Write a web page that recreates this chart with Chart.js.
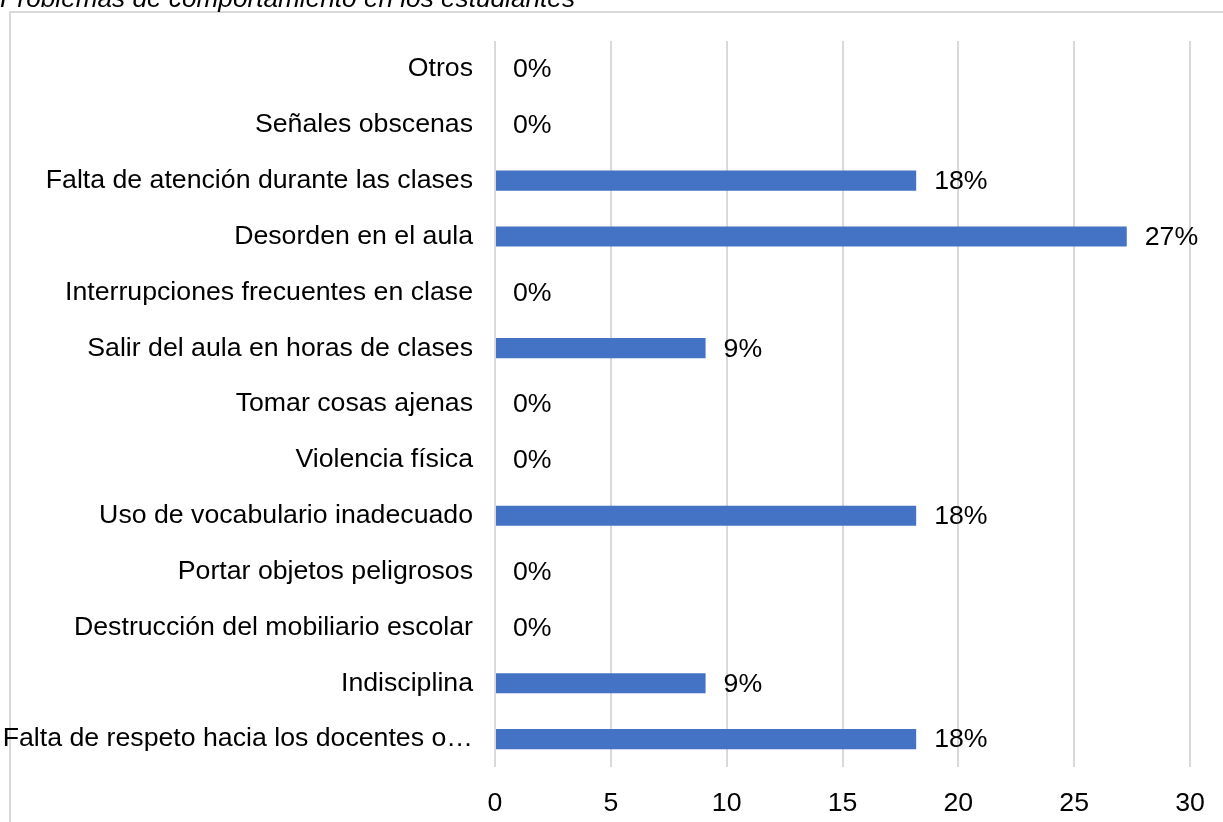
<!DOCTYPE html>
<html>
<head>
<meta charset="utf-8">
<script src="https://cdn.jsdelivr.net/npm/chart.js@4/dist/chart.umd.min.js"></script>
<style>
  html, body { margin: 0; padding: 0; background: #fff; }
  canvas { display: block; }
</style>
</head>
<body>
<canvas id="c" width="1223" height="822"></canvas>
<script>
const title = "Problemas de comportamiento en los estudiantes";
const categories = [
  "Otros",
  "Señales obscenas",
  "Falta de atención durante las clases",
  "Desorden en el aula",
  "Interrupciones frecuentes en clase",
  "Salir del aula en horas de clases",
  "Tomar cosas ajenas",
  "Violencia física",
  "Uso de vocabulario inadecuado",
  "Portar objetos peligrosos",
  "Destrucción del mobiliario escolar",
  "Indisciplina",
  "Falta de respeto hacia los docentes o…"
];
const values = [0, 0, 18.18, 27.27, 0, 9.09, 0, 0, 18.18, 0, 0, 9.09, 18.18];
const xTicks = [0, 5, 10, 15, 20, 25, 30];

const FONT = "'Liberation Sans', Arial, sans-serif";
const FS = 26.7;

const framePlugin = {
  id: 'frame',
  beforeDraw(chart) {
    const ctx = chart.ctx;
    ctx.save();
    ctx.fillStyle = '#fff';
    ctx.fillRect(0, 0, chart.width, chart.height);
    ctx.strokeStyle = '#d9d9d9';
    ctx.lineWidth = 2;
    ctx.beginPath();
    ctx.moveTo(10, chart.height + 5);
    ctx.lineTo(10, 12);
    ctx.lineTo(chart.width + 5, 12);
    ctx.stroke();
    ctx.fillStyle = '#000';
    ctx.font = 'italic 26.2px ' + FONT;
    ctx.textAlign = 'left';
    ctx.textBaseline = 'alphabetic';
    ctx.fillText(title, 0, 7);
    ctx.restore();
  }
};

const labelPlugin = {
  id: 'valueLabels',
  afterDatasetsDraw(chart) {
    const ctx = chart.ctx;
    const meta = chart.getDatasetMeta(0);
    ctx.save();
    ctx.fillStyle = '#000';
    ctx.font = FS + 'px ' + FONT;
    ctx.textAlign = 'left';
    ctx.textBaseline = 'middle';
    meta.data.forEach((el, i) => {
      const v = chart.data.datasets[0].data[i];
      ctx.fillText(Math.round(v) + '%', el.x + 18, el.y + 1);
    });
    ctx.restore();
  }
};

new Chart(document.getElementById('c'), {
  type: 'bar',
  data: {
    labels: categories,
    datasets: [{
      data: values,
      backgroundColor: '#4472C4',
      borderWidth: 0,
      barPercentage: 0.36,
      categoryPercentage: 1.0
    }]
  },
  options: {
    indexAxis: 'y',
    responsive: false,
    animation: false,
    devicePixelRatio: 1,
    layout: { padding: { top: 41, right: 33, left: 0, bottom: 0 } },
    plugins: {
      legend: { display: false },
      tooltip: { enabled: false },
      title: { display: false }
    },
    scales: {
      x: {
        min: 0,
        max: 30,
        afterBuildTicks(scale) { scale.ticks = xTicks.map(v => ({ value: v })); },
        afterFit(scale) { scale.height = 55; scale.paddingLeft = 0; scale.paddingRight = 0; },
        grid: { color: '#d9d9d9', lineWidth: 2, drawTicks: false },
        border: { display: false },
        ticks: {
          padding: 21,
          color: '#000',
          font: { family: FONT, size: FS },
          maxRotation: 0
        }
      },
      y: {
        afterFit(scale) { scale.width = 495; scale.paddingTop = 0; scale.paddingBottom = 0; },
        grid: { display: false, drawTicks: false },
        border: { display: false },
        ticks: {
          padding: 22,
          color: '#000',
          autoSkip: false,
          font: { family: FONT, size: FS }
        }
      }
    }
  },
  plugins: [framePlugin, labelPlugin]
});
</script>
</body>
</html>
